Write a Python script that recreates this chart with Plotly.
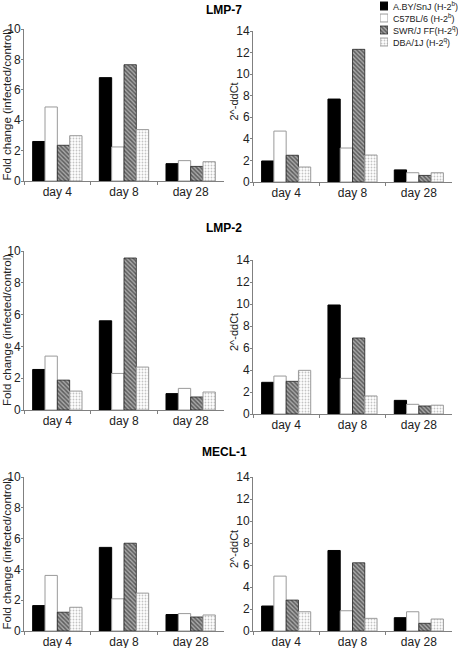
import plotly.graph_objects as go

W, H = 458, 648

days = ["day 4", "day 8", "day 28"]
strains = ["A.BY/SnJ (H-2<sup>b</sup>)", "C57BL/6 (H-2<sup>b</sup>)",
           "SWR/J FF(H-2<sup>q</sup>)", "DBA/1J (H-2<sup>q</sup>)"]
genes = ["LMP-7", "LMP-2", "MECL-1"]

# Fold change (infected/control) — left column; one list per strain (day 4, day 8, day 28)
fold_lmp7 = [[2.6, 6.8, 1.14], [4.87, 2.24, 1.34], [2.35, 7.65, 0.96], [2.98, 3.38, 1.27]]
fold_lmp2 = [[2.55, 5.61, 1.03], [3.39, 2.3, 1.36], [1.88, 9.56, 0.82], [1.19, 2.7, 1.13]]
fold_mecl1 = [[1.65, 5.43, 1.07], [3.61, 2.09, 1.13], [1.22, 5.7, 0.91], [1.54, 2.46, 1.04]]

# 2^-ddCt — right column
ddct_lmp7 = [[1.95, 7.69, 1.12], [4.72, 3.15, 0.86], [2.48, 12.3, 0.61], [1.39, 2.5, 0.86]]
ddct_lmp2 = [[2.88, 9.91, 1.24], [3.45, 3.24, 0.88], [2.97, 6.91, 0.73], [3.97, 1.64, 0.8]]
ddct_mecl1 = [[2.27, 7.32, 1.21], [4.99, 1.84, 1.75], [2.81, 6.2, 0.7], [1.75, 1.15, 1.09]]

fold_ticks = [0, 2, 4, 6, 8, 10]
ddct_ticks = [0, 2, 4, 6, 8, 10, 12, 14]

FONT = "Liberation Sans, Arial, sans-serif"

styles = [
    dict(color="black", line=dict(color="black", width=1)),
    dict(color="white", line=dict(color="#9a9a9a", width=1)),
    dict(color="white", line=dict(color="#222222", width=0.8),
         pattern=dict(shape="\\", fgcolor="#111111", bgcolor="#a8a8a8", size=3, solidity=0.5)),
    dict(color="white", line=dict(color="#9a9a9a", width=1),
         pattern=dict(shape=".", fgcolor="#888888", bgcolor="white", size=3, solidity=0.3)),
]

def px_x(p):
    return p / W

def px_y(p):
    return 1 - p / H

# panel pixel boxes: (x0, x1, ytop, ybottom)
panels = [
    ("fold", fold_lmp7, (24, 224, 29, 181)),
    ("ddct", ddct_lmp7, (253, 452, 31, 182)),
    ("fold", fold_lmp2, (24, 224, 251, 410)),
    ("ddct", ddct_lmp2, (253, 452, 260, 414)),
    ("fold", fold_mecl1, (24, 224, 477, 631)),
    ("ddct", ddct_mecl1, (253, 452, 477, 631)),
]

fig = go.Figure()
layout = dict(
    width=W, height=H, margin=dict(l=0, r=0, t=0, b=0, autoexpand=False),
    paper_bgcolor="white", plot_bgcolor="white",
    showlegend=False, barmode="group", bargap=0.26, bargroupgap=0,
    font=dict(family=FONT, size=12, color="#222222"),
    annotations=[],
)

for i, (kind, data, (x0, x1, yt, yb)) in enumerate(panels):
    n = i + 1
    xa = "x" if n == 1 else f"x{n}"
    ya = "y" if n == 1 else f"y{n}"
    for s in range(4):
        fig.add_trace(go.Bar(x=days, y=data[s], name=strains[s], marker=styles[s],
                             xaxis=xa, yaxis=ya, showlegend=False, hoverinfo="skip"))
    ticks = fold_ticks if kind == "fold" else ddct_ticks
    layout["xaxis" if n == 1 else f"xaxis{n}"] = dict(
        domain=[px_x(x0), px_x(x1)], anchor=ya, range=[-0.5, 2.5],
        showline=True, linecolor="#808080", linewidth=1,
        ticks="outside", tickson="boundaries", ticklen=3, tickcolor="#808080",
        showgrid=False, zeroline=False, tickfont=dict(size=12, color="#222222"),
        fixedrange=True,
    )
    layout["yaxis" if n == 1 else f"yaxis{n}"] = dict(
        domain=[px_y(yb), px_y(yt)], anchor=xa, range=[0, ticks[-1]],
        tickvals=ticks, showline=True, linecolor="#808080", linewidth=1,
        ticks="outside", ticklen=2, tickcolor="#808080", ticklabelstandoff=-2,
        showgrid=False, zeroline=False, tickfont=dict(size=12, color="#222222"),
        fixedrange=True,
    )
    ymid = (yt + yb) / 2
    if kind == "fold":
        layout["annotations"].append(dict(
            text="Fold change (infected/control)", textangle=-90, x=px_x(6.5), y=px_y(ymid),
            xanchor="center", yanchor="middle",
            xref="paper", yref="paper", showarrow=False, font=dict(size=11.5, color="#222222")))
    else:
        layout["annotations"].append(dict(
            text="2^-ddCt", textangle=-90, x=px_x(234), y=px_y(ymid - 5),
            xanchor="center", yanchor="middle",
            xref="paper", yref="paper", showarrow=False, font=dict(size=11, color="#222222")))

# gene titles
for g, yc in zip(genes, [10, 228, 452]):
    layout["annotations"].append(dict(
        text=f"<b>{g}</b>", x=px_x(224), y=px_y(yc), xref="paper", yref="paper",
        xanchor="center", yanchor="middle",
        showarrow=False, font=dict(size=12, color="black")))

# manual legend (icons as bars in a small axis, labels as text)
rows = [0, 1, 2, 3]
for s in range(4):
    fig.add_trace(go.Bar(x=[1], y=[rows[s]], orientation="h", marker=styles[s],
                         width=0.66, offset=-0.33, xaxis="x7", yaxis="y7",
                         showlegend=False, hoverinfo="skip"))
layout["xaxis7"] = dict(domain=[px_x(380), px_x(388)], anchor="y7", range=[0, 1],
                        visible=False, fixedrange=True)
layout["yaxis7"] = dict(domain=[px_y(48), px_y(0)], anchor="x7", range=[3.5, -0.5],
                        visible=False, fixedrange=True)
for s in range(4):
    layout["annotations"].append(dict(
        text=strains[s], x=px_x(391), y=px_y(6 + 12 * s), xref="paper", yref="paper",
        xanchor="left", yanchor="middle", showarrow=False, font=dict(size=9, color="#222222")))

fig.update_layout(**layout)
fig.write_html("out.html", config={"displayModeBar": False, "staticPlot": True},
               post_script="document.body.style.margin='0';document.body.style.overflow='hidden';")
